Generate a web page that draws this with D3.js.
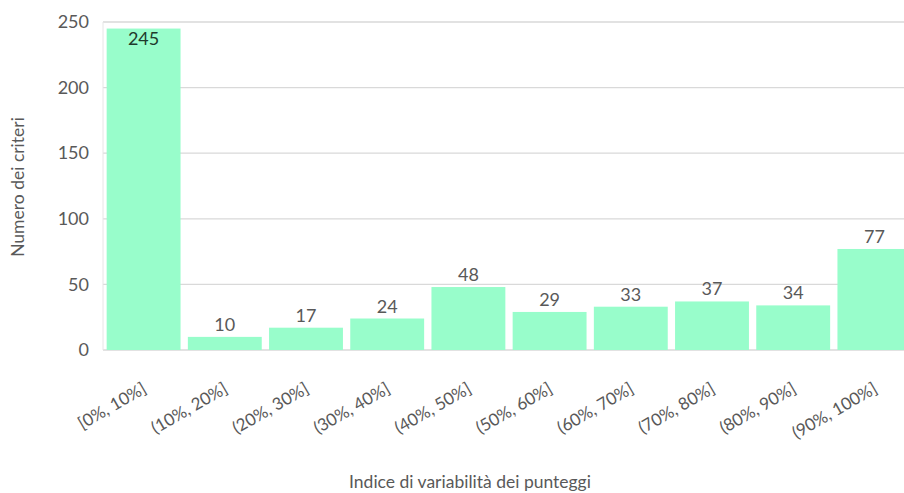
<!DOCTYPE html>
<html>
<head>
<meta charset="utf-8">
<script src="https://cdn.jsdelivr.net/npm/d3@7"></script>
<style>
  html, body { margin: 0; padding: 0; background: #fff; overflow: hidden; }
  svg { display: block; font-family: Lato, "Open Sans", sans-serif; }
</style>
</head>
<body>
<svg id="chart" width="904" height="493"></svg>
<script>
// Distribution of criteria by score variability index
const categories = ["[0%, 10%]", "(10%, 20%]", "(20%, 30%]", "(30%, 40%]", "(40%, 50%]",
                    "(50%, 60%]", "(60%, 70%]", "(70%, 80%]", "(80%, 90%]", "(90%, 100%]"];
const counts = [245, 10, 17, 24, 48, 29, 33, 37, 34, 77];
const yTicks = [0, 50, 100, 150, 200, 250];

const svg = d3.select("#chart");
const margin = { left: 103, top: 22, bottom: 143 };
const plotW = 812;                 // plot runs past the right edge of the view
const plotH = 493 - margin.top - margin.bottom;

const x = d3.scaleBand().domain(categories)
  .range([margin.left, margin.left + plotW])
  .paddingInner(0.09).paddingOuter(0.045);
const y = d3.scaleLinear().domain([0, 250]).range([margin.top + plotH, margin.top]);

// Horizontal gridlines
svg.append("g").selectAll("line").data(yTicks).join("line")
  .attr("x1", margin.left).attr("x2", margin.left + plotW)
  .attr("y1", d => y(d)).attr("y2", d => y(d))
  .attr("stroke", "#d9d9d9").attr("stroke-width", 1.3);

// Left edge of the plot area
svg.append("line")
  .attr("x1", margin.left).attr("x2", margin.left)
  .attr("y1", y(250)).attr("y2", y(0))
  .attr("stroke", "#e6e6e6").attr("stroke-width", 1);

// Y axis labels
const yAxis = svg.append("g")
  .attr("transform", `translate(${margin.left - 14},0)`)
  .call(d3.axisLeft(y).tickValues(yTicks).tickSize(0).tickPadding(0));
yAxis.select(".domain").remove();
yAxis.selectAll("text").attr("font-size", 18).attr("fill", "#595959")
  .attr("font-family", "Lato, 'Open Sans', sans-serif");

// Bars
svg.append("g").selectAll("rect").data(counts).join("rect")
  .attr("x", (d, i) => x(categories[i]))
  .attr("width", x.bandwidth())
  .attr("y", d => y(d))
  .attr("height", d => y(0) - y(d))
  .attr("fill", "#98fdcb");

// Value labels (placed inside the bar when there is no room above it)
const inside = d => y(d) - margin.top < 20;
svg.append("g").selectAll("text").data(counts).join("text")
  .attr("x", (d, i) => x(categories[i]) + x.bandwidth() / 2)
  .attr("y", d => (inside(d) ? y(d) + 16 : y(d) - 6))
  .attr("text-anchor", "middle")
  .attr("font-size", 18)
  .attr("fill", d => (inside(d) ? "#1f3a2c" : "#595959"))
  .text(d => d);

// Category labels, rotated
svg.append("g").selectAll("text").data(categories).join("text")
  .attr("transform", d => `translate(${x(d) + x.bandwidth() / 2 + 4},${y(0) + 42}) rotate(-30)`)
  .attr("text-anchor", "end")
  .attr("font-size", 17)
  .attr("fill", "#595959")
  .text(d => d);

// Axis titles
svg.append("text")
  .attr("x", 470).attr("y", 488)
  .attr("text-anchor", "middle")
  .attr("font-size", 17.5).attr("fill", "#595959")
  .text("Indice di variabilità dei punteggi");

svg.append("text")
  .attr("transform", `translate(24,${margin.top + 165}) rotate(-90)`)
  .attr("text-anchor", "middle")
  .attr("font-size", 17.5).attr("fill", "#595959")
  .text("Numero dei criteri");
</script>
</body>
</html>
